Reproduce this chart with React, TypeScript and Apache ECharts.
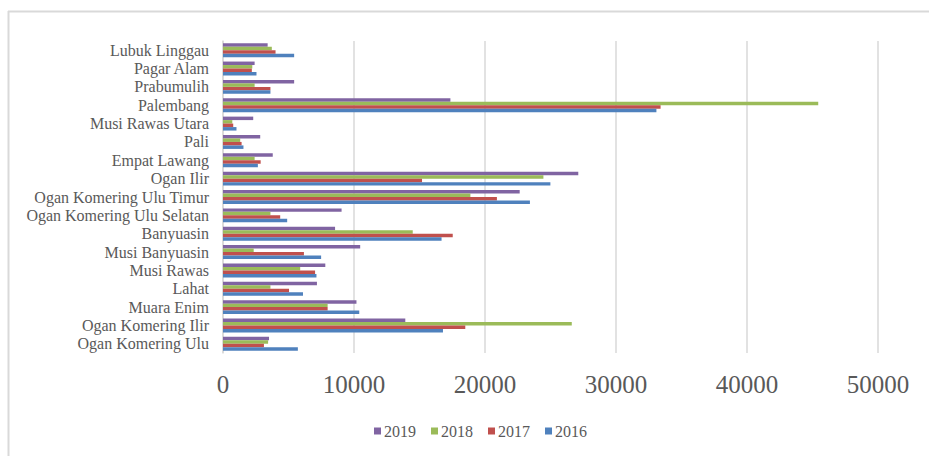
import React, { useEffect, useRef } from "react";
import * as echarts from "echarts";

const categories = [
  "Ogan Komering Ulu",
  "Ogan Komering Ilir",
  "Muara Enim",
  "Lahat",
  "Musi Rawas",
  "Musi Banyuasin",
  "Banyuasin",
  "Ogan Komering Ulu Selatan",
  "Ogan Komering Ulu Timur",
  "Ogan Ilir",
  "Empat Lawang",
  "Pali",
  "Musi Rawas Utara",
  "Palembang",
  "Prabumulih",
  "Pagar Alam",
  "Lubuk Linggau",
];

const values2016 = [5715, 16791, 10401, 6106, 7135, 7490, 16684, 4899, 23429, 24991, 2662, 1562, 1029, 33085, 3621, 2556, 5431];
const values2017 = [3124, 18495, 7987, 5041, 7029, 6177, 17537, 4366, 20909, 15193, 2875, 1420, 781, 33404, 3621, 2201, 4011];
const values2018 = [3443, 26624, 7987, 3621, 5893, 2343, 14484, 3621, 18885, 24459, 2414, 1313, 710, 45438, 2414, 2236, 3727];
const values2019 = [3514, 13916, 10188, 7171, 7810, 10472, 8555, 9052, 22648, 27121, 3798, 2840, 2307, 17359, 5431, 2414, 3408];

const legendOrder = ["2019", "2018", "2017", "2016"];

export default function App() {
  const ref = useRef<HTMLDivElement>(null);
  useEffect(() => {
    if (!ref.current) return;
    const chart = echarts.init(ref.current, null, { renderer: "svg" });
    const font = "'Liberation Serif', 'Times New Roman', serif";
    const mk = (name: string, data: number[], color: string) => ({
      name,
      type: "bar",
      data,
      itemStyle: { color },
      barGap: "0%",
      barCategoryGap: "24%",
    });
    chart.setOption({
      animation: false,
      backgroundColor: "#ffffff",
      textStyle: { fontFamily: font },
      graphic: [
        { type: "line", shape: { x1: 8, y1: 11.5, x2: 929, y2: 11.5 }, style: { stroke: "#d9d9d9", lineWidth: 2 } },
        { type: "line", shape: { x1: 8.5, y1: 11, x2: 8.5, y2: 456 }, style: { stroke: "#d9d9d9", lineWidth: 2 } },
      ],
      grid: { left: 223, right: 51, top: 41, bottom: 103, containLabel: false },
      legend: {
        data: legendOrder,
        bottom: 12,
        left: 369,
        itemWidth: 7,
        itemHeight: 7,
        itemGap: 15,
        icon: "rect",
        textStyle: { fontFamily: font, fontSize: 16, color: "#595959", padding: [0, 0, 0, -2] },
      },
      xAxis: {
        type: "value",
        min: 0,
        max: 50000,
        interval: 10000,
        axisLine: { show: false },
        axisTick: { show: false },
        splitLine: { lineStyle: { color: "#d9d9d9", width: 1.5 } },
        axisLabel: {
          fontFamily: font,
          fontSize: 25,
          color: "#595959",
          margin: 19,
          formatter: (v: number) => String(v),
        },
      },
      yAxis: {
        type: "category",
        data: categories,
        axisLine: { show: true, lineStyle: { color: "#d9d9d9", width: 1.5 } },
        axisTick: { show: false },
        axisLabel: { fontFamily: font, fontSize: 16, color: "#595959", margin: 14, interval: 0 },
      },
      series: [
        mk("2019", values2019, "#8064A2"),
        mk("2018", values2018, "#9BBB59"),
        mk("2017", values2017, "#C0504D"),
        mk("2016", values2016, "#4F81BD"),
      ],
    });
    return () => chart.dispose();
  }, []);
  return (
    <div
      ref={ref}
      style={{ position: "absolute", left: 0, top: 0, width: 929, height: 456 }}
    />
  );
}
